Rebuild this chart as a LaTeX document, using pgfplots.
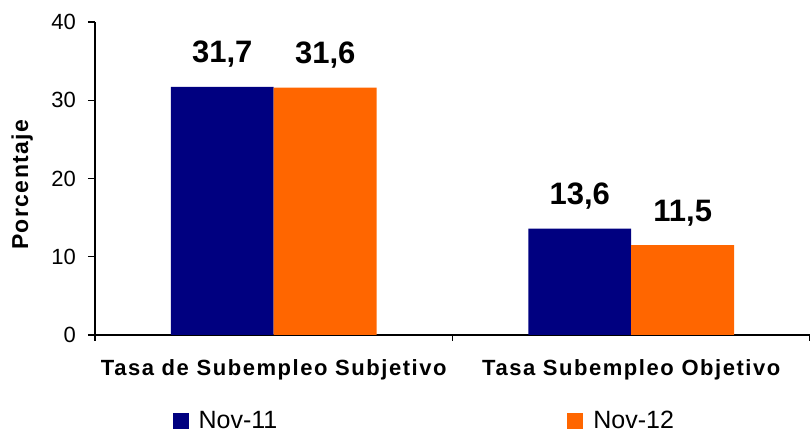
\documentclass[border=0pt]{standalone}
\usepackage{fontspec}
\setmainfont{Liberation Sans}
\usepackage{pgfplots}
\pgfplotsset{compat=1.18}
\definecolor{nov11}{RGB}{0,0,128}
\definecolor{nov12}{RGB}{255,102,0}

\begin{document}
\begin{tikzpicture}
\begin{axis}[
    at={(0,0)}, anchor=south west,
    scale only axis,
    width=357.5pt,
    height=156.5pt,
    ybar,
    bar width=0.288,
    xmin=-0.5, xmax=1.5,
    ymin=0, ymax=40,
    ytick={0,10,20,30,40},
    xtick={0,1},
    xticklabels={Tasa de Subempleo Subjetivo, Tasa Subempleo Objetivo},
    minor xtick={-0.5,0.5,1.5},
    axis x line*=bottom,
    axis y line*=left,
    axis line style={line width=0.6pt},
    tick align=outside,
    tick style={black, line width=0.6pt},
    major tick length=3.5pt,
    minor tick length=3pt,
    major x tick style={draw=none},
    /pgf/number format/assume math mode=true,
    yticklabel style={font=\fontsize{11}{13}\selectfont, xshift=-2.5pt},
    xticklabel style={font=\fontsize{11}{13}\selectfont\bfseries\addfontfeature{LetterSpace=7}, anchor=base, yshift=-17pt},
    ylabel={Porcentaje},
    ylabel style={font=\fontsize{11.5}{13}\selectfont\bfseries\addfontfeature{LetterSpace=6}, at={(axis description cs:-0.102,0.48)}, anchor=center},
    nodes near coords,
    point meta=explicit symbolic,
    every node near coord/.append style={font=\fontsize{15.5}{17}\selectfont\bfseries, anchor=base, yshift=12pt, text=black},
    legend columns=2,
    legend style={at={(rel axis cs:0.462,-0.275)}, anchor=center, draw=none,
        font=\fontsize{12.5}{14}\selectfont,
        /tikz/every even column/.append style={column sep=143pt}},
    legend image code/.code={\fill[#1] (0pt,-4pt) rectangle (8pt,4pt); \path (11pt,0pt);},
]
\addplot[fill=nov11, draw=none, bar shift=-0.144] coordinates {
    (0, 31.7) [31,7]
    (1, 13.6) [13,6]
};
\addplot[fill=nov12, draw=none, bar shift=0.144] coordinates {
    (0, 31.6) [31,6]
    (1, 11.5) [11,5]
};
\legend{Nov-11, Nov-12}
\end{axis}
\pgfresetboundingbox
\path[use as bounding box] (-47.5pt,-49pt) rectangle (357.5pt,167.5pt);
\end{tikzpicture}
\end{document}
